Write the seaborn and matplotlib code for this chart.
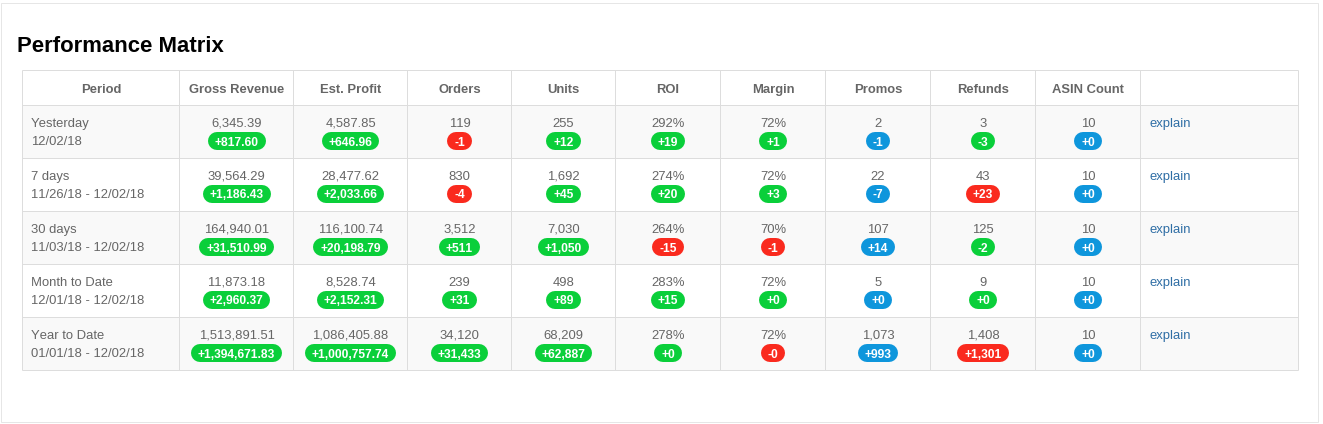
import numpy as np
import matplotlib
matplotlib.use("Agg")
import matplotlib.pyplot as plt
import seaborn as sns
from matplotlib.colors import ListedColormap
from matplotlib.patches import Rectangle

headers = ["Period", "Gross Revenue", "Est. Profit", "Orders", "Units", "ROI",
           "Margin", "Promos", "Refunds", "ASIN Count", ""]
periods = ["Yesterday", "7 days", "30 days", "Month to Date", "Year to Date"]
dates = ["12/02/18", "11/26/18 - 12/02/18", "11/03/18 - 12/02/18",
         "12/01/18 - 12/02/18", "01/01/18 - 12/02/18"]

gross_revenue = ["6,345.39", "39,564.29", "164,940.01", "11,873.18", "1,513,891.51"]
gross_delta = ["+817.60", "+1,186.43", "+31,510.99", "+2,960.37", "+1,394,671.83"]
est_profit = ["4,587.85", "28,477.62", "116,100.74", "8,528.74", "1,086,405.88"]
profit_delta = ["+646.96", "+2,033.66", "+20,198.79", "+2,152.31", "+1,000,757.74"]
orders = ["119", "830", "3,512", "239", "34,120"]
orders_delta = ["-1", "-4", "+511", "+31", "+31,433"]
units = ["255", "1,692", "7,030", "498", "68,209"]
units_delta = ["+12", "+45", "+1,050", "+89", "+62,887"]
roi = ["292%", "274%", "264%", "283%", "278%"]
roi_delta = ["+19", "+20", "-15", "+15", "+0"]
margin = ["72%", "72%", "70%", "72%", "72%"]
margin_delta = ["+1", "+3", "-1", "+0", "-0"]
promos = ["2", "22", "107", "5", "1,073"]
promos_delta = ["-1", "-7", "+14", "+0", "+993"]
refunds = ["3", "43", "125", "9", "1,408"]
refunds_delta = ["-3", "+23", "-2", "+0", "+1,301"]
asin_count = ["10", "10", "10", "10", "10"]
asin_delta = ["+0", "+0", "+0", "+0", "+0"]

# badge colour per column, g/r/b per row
gross_state = ["g", "g", "g", "g", "g"]
profit_state = ["g", "g", "g", "g", "g"]
orders_state = ["r", "r", "g", "g", "g"]
units_state = ["g", "g", "g", "g", "g"]
roi_state = ["g", "g", "r", "g", "g"]
margin_state = ["g", "g", "r", "g", "r"]
promos_state = ["b", "b", "b", "b", "b"]
refunds_state = ["g", "r", "g", "g", "r"]
asin_state = ["b", "b", "b", "b", "b"]

columns = [
    (gross_revenue, gross_delta, gross_state),
    (est_profit, profit_delta, profit_state),
    (orders, orders_delta, orders_state),
    (units, units_delta, units_state),
    (roi, roi_delta, roi_state),
    (margin, margin_delta, margin_state),
    (promos, promos_delta, promos_state),
    (refunds, refunds_delta, refunds_state),
    (asin_count, asin_delta, asin_state),
]

# layout in image pixels
W, H = 1323, 424
col_x = [22, 179, 293, 407, 511, 615, 720, 825, 930, 1035, 1140, 1298]
row_y = [70, 105, 158, 211, 264, 317, 370]

badge_colors = {"g": "#0ACF3A", "r": "#FA2A1E", "b": "#0E96DC"}
text_color = "#666666"
line_color = "#DDDDDD"
link_color = "#2F6EA5"

sns.set_theme(style="white")
plt.rcParams["font.family"] = ["Liberation Sans", "DejaVu Sans"]
# browser text has no kerned "11" pairs
plt.rcParams["text.kerning_factor"] = 16

fig = plt.figure(figsize=(W / 100, H / 100), dpi=100, facecolor="white")

# striped body rows
body_top, body_bottom = row_y[1], row_y[-1]
ax_body = fig.add_axes([col_x[0] / W, 1 - body_bottom / H,
                        (col_x[-1] - col_x[0]) / W, (body_bottom - body_top) / H])
stripes = np.array([[0], [1], [0], [1], [0]])
sns.heatmap(stripes, ax=ax_body, cbar=False, xticklabels=False, yticklabels=False,
            cmap=ListedColormap(["#F9F9F9", "#FFFFFF"]), vmin=0, vmax=1)

# everything else goes on top in pixel coordinates
ax = fig.add_axes([0, 0, 1, 1], facecolor="none")
ax.set_xlim(0, W)
ax.set_ylim(H, 0)
ax.axis("off")

px = 72 / 100

ax.add_patch(Rectangle((1, 3), 1317, 419, fill=False, edgecolor="#E6E6E6", linewidth=px))

for y in row_y:
    ax.plot([col_x[0], col_x[-1]], [y, y], color=line_color, lw=px, solid_capstyle="butt")
for x in col_x:
    ax.plot([x, x], [row_y[0], row_y[-1]], color=line_color, lw=px, solid_capstyle="butt")

ax.text(17, 51.5, "Performance Matrix", fontsize=22.2 * px, fontweight="bold",
        color="black", ha="left", va="baseline")

for i, label in enumerate(headers):
    ax.text((col_x[i] + col_x[i + 1]) / 2 + 0.5, 93, label, fontsize=13 * px, fontweight="bold",
            color=text_color, ha="center", va="baseline")

renderer = fig.canvas.get_renderer()

for r in range(len(periods)):
    top = row_y[r + 1]
    ax.text(31, top + 22, periods[r], fontsize=13 * px, color=text_color, ha="left", va="baseline")
    ax.text(31, top + 40, dates[r], fontsize=13 * px, color=text_color, ha="left", va="baseline")
    ax.text(col_x[-2] + 9, top + 22, "explain", fontsize=13 * px, color=link_color,
            ha="left", va="baseline")
    for c, (values, deltas, states) in enumerate(columns):
        cx = (col_x[c + 1] + col_x[c + 2]) / 2 + 0.5
        ax.text(cx, top + 21.6, values[r], fontsize=13 * px, color=text_color, ha="center", va="baseline")
        label = ax.text(cx, top + 40.5, deltas[r], fontsize=12 * px, fontweight="bold",
                        color="white", ha="center", va="baseline", zorder=4)
        # pill = thick line with round caps, 18px tall
        width = label.get_window_extent(renderer).width + 14
        ax.plot([cx - width / 2 + 9, cx + width / 2 - 9], [top + 36, top + 36],
                color=badge_colors[states[r]], lw=18 * px, solid_capstyle="round", zorder=3)

fig.savefig("out.png", dpi=100)
plt.close(fig)
